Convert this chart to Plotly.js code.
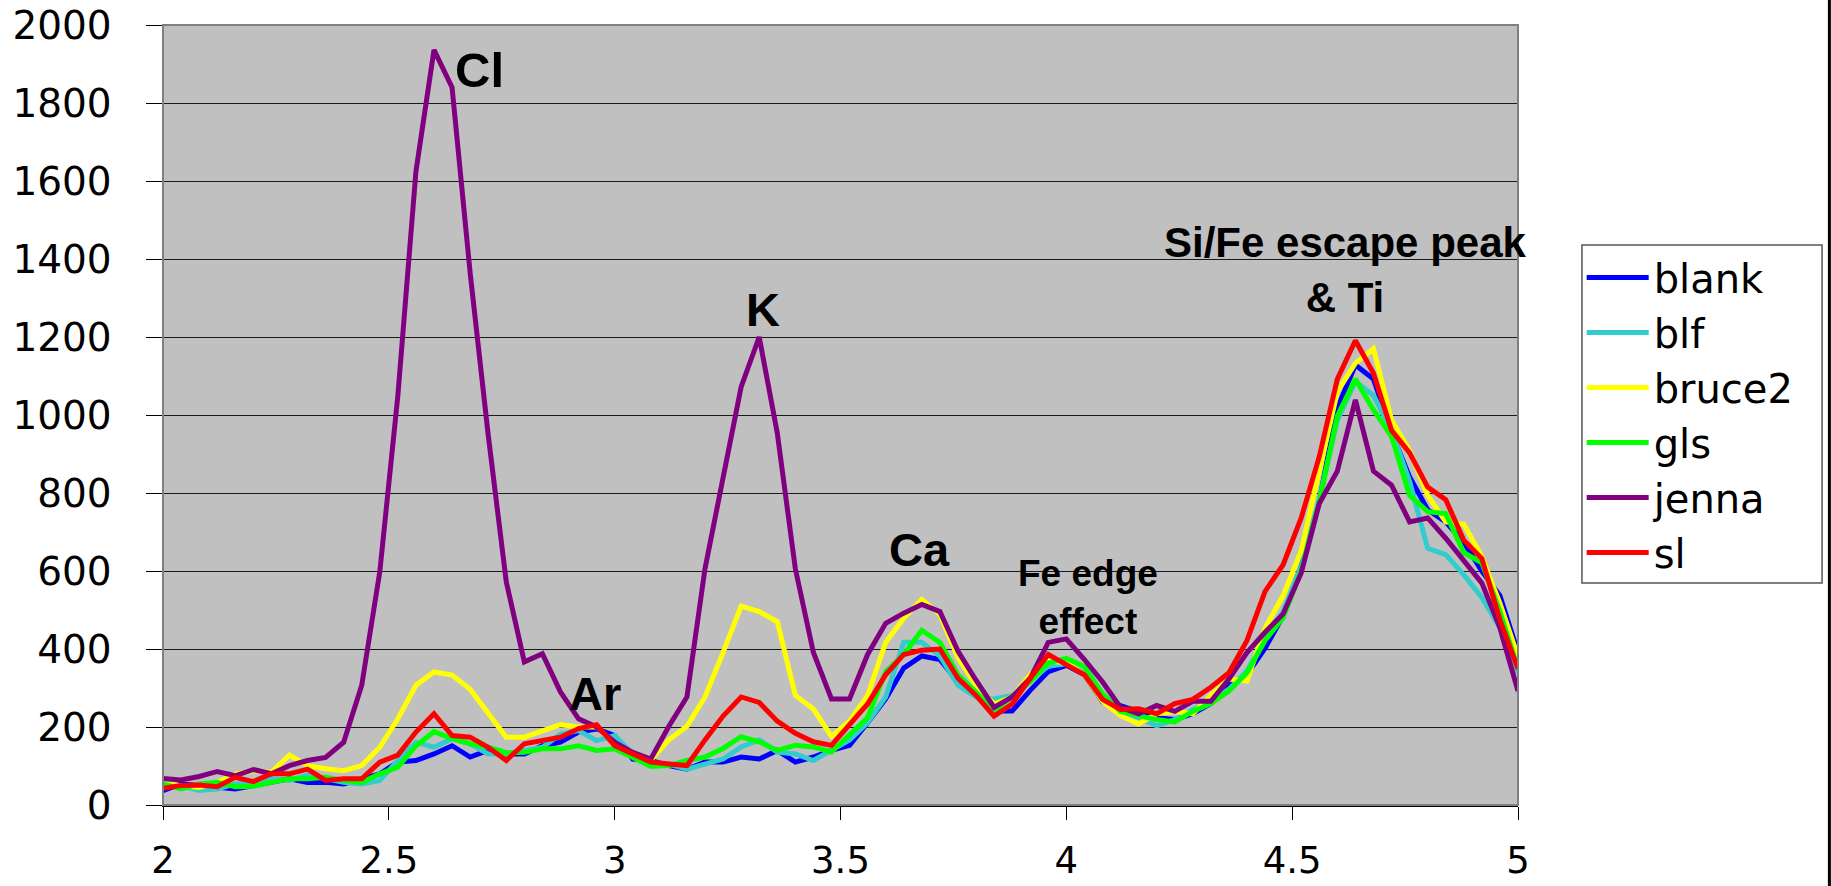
<!DOCTYPE html>
<html>
<head>
<meta charset="utf-8">
<script src="https://cdn.plot.ly/plotly-3.0.1.min.js"></script>
<style>
  html, body { margin: 0; padding: 0; background: #ffffff; }
  #chart { width: 1831px; height: 886px; }
</style>
</head>
<body>
<div id="chart"></div>
<script>
// Energy axis (keV)
const energy = [2.00,2.04,2.08,2.12,2.16,2.20,2.24,2.28,2.32,2.36,2.40,2.44,2.48,2.52,2.56,2.60,2.64,2.68,2.72,2.76,
  2.80,2.84,2.88,2.92,2.96,3.00,3.04,3.08,3.12,3.16,3.20,3.24,3.28,3.32,3.36,3.40,3.44,3.48,3.52,3.56,
  3.60,3.64,3.68,3.72,3.76,3.80,3.84,3.88,3.92,3.96,4.00,4.04,4.08,4.12,4.16,4.20,4.24,4.28,4.32,4.36,
  4.40,4.44,4.48,4.52,4.56,4.60,4.64,4.68,4.72,4.76,4.80,4.84,4.88,4.92,4.96,5.00];

const seriesNames = ["blank", "blf", "bruce2", "gls", "jenna", "sl"];

const blank = [37,54,50,45,41,50,58,67,58,58,54,67,80,110,114,131,152,123,140,131,
  131,152,161,187,195,178,118,114,101,92,110,110,123,118,140,110,123,140,153,211,
  272,351,382,373,316,285,241,241,294,342,358,334,265,255,240,224,219,234,260,307,
  334,402,485,611,778,1018,1128,1092,956,841,757,726,673,600,537,391];

const blf = [50,50,37,41,54,58,67,63,77,67,58,54,63,114,161,148,170,157,131,131,
  140,148,182,191,165,178,131,108,105,92,105,118,149,167,136,131,114,140,167,211,
  277,417,417,382,307,277,272,281,320,356,362,338,274,234,224,203,219,245,266,297,
  344,428,496,611,783,987,1086,1050,961,830,658,642,590,532,454,339];

const bruce2 = [54,50,45,58,79,88,84,128,101,93,88,101,148,221,307,341,333,297,237,174,
  174,191,206,200,200,157,131,115,167,202,277,391,510,496,470,281,246,176,215,281,
  417,479,527,488,378,307,259,277,334,369,365,334,266,229,208,234,240,234,281,323,
  318,454,537,652,851,1060,1133,1170,987,909,794,726,720,637,517,381];

const gls = [54,41,54,58,47,48,58,67,67,71,63,58,80,97,152,188,170,157,148,134,
  135,144,144,152,140,144,122,99,101,114,123,145,175,162,140,153,149,136,180,224,
  342,386,448,417,334,290,241,277,316,364,376,355,285,240,229,219,213,240,260,292,
  339,422,480,600,778,997,1092,1013,945,794,752,747,647,621,496,349];

const jenna = [68,64,73,86,75,91,80,101,114,122,161,307,598,1050,1624,1936,1840,1365,949,572,
  367,388,290,221,200,161,135,118,202,277,606,844,1072,1200,954,606,391,272,272,386,
  466,492,514,496,395,320,250,277,325,417,426,373,316,250,234,255,240,266,266,323,
  391,443,490,595,773,856,1039,856,820,726,736,684,626,569,454,292];

const sl = [43,50,51,47,71,60,80,80,92,63,67,67,110,128,187,234,178,174,148,114,
  157,165,174,196,206,152,131,110,105,101,167,228,277,263,215,184,162,153,206,259,
  334,386,397,400,325,281,228,259,325,386,360,334,271,245,247,234,260,271,302,339,
  422,548,616,736,893,1092,1191,1107,961,903,815,783,679,632,475,349];

const seriesValues = [blank, blf, bruce2, gls, jenna, sl];
const seriesColors = ["#0000FF", "#33CCCC", "#FFFF00", "#00FF00", "#800080", "#FF0000"];

const xTicks = [2, 2.5, 3, 3.5, 4, 4.5, 5];
const xTickLabels = ["2", "2.5", "3", "3.5", "4", "4.5", "5"];
const yTicks = [0, 200, 400, 600, 800, 1000, 1200, 1400, 1600, 1800, 2000];
const yTickLabels = ["0", "200", "400", "600", "800", "1000", "1200", "1400", "1600", "1800", "2000"];

const peakLabels = ["Cl", "Ar", "K", "Ca", "Fe edge<br>effect", "Si/Fe escape peak<br>& Ti"];
const peakX = [2.701, 2.956, 3.329, 3.674, 4.047, 4.618];
const peakY = [1885, 285, 1270, 656, 531, 1372];
const peakSize = [49, 47, 47, 47, 37, 42];

const traces = seriesNames.map((name, k) => ({
  type: "scatter",
  mode: "lines",
  name: name,
  x: energy,
  y: seriesValues[k],
  line: { color: seriesColors[k], width: 5 },
  hoverinfo: "x+y+name"
}));

const annotations = peakLabels.map((t, k) => ({
  x: peakX[k], y: peakY[k], xref: "x", yref: "y",
  text: t, showarrow: false,
  xanchor: "center", yanchor: "middle",
  font: { family: "Liberation Sans, Arial, sans-serif", size: peakSize[k], color: "#000000", weight: "bold" }
}));

const layout = {
  width: 1831, height: 886,
  margin: { l: 163, r: 313, t: 25, b: 81, pad: 0 },
  paper_bgcolor: "#FFFFFF",
  plot_bgcolor: "#C0C0C0",
  showlegend: true,
  legend: {
    x: 1.047, y: 0.718, xanchor: "left", yanchor: "top",
    bgcolor: "rgba(255,255,255,0)", borderwidth: 0,
    font: { family: "DejaVu Sans, sans-serif", size: 40, color: "#000000" },
    itemwidth: 62,
    tracegroupgap: 0
  },
  xaxis: {
    range: [2, 5],
    tickmode: "array", tickvals: xTicks, ticktext: xTickLabels,
    ticks: "outside", ticklen: 13, tickwidth: 1, tickcolor: "#000000",
    showgrid: false, zeroline: false,
    showline: true, linecolor: "#000000", linewidth: 1.5,
    tickfont: { family: "DejaVu Sans, sans-serif", size: 37, color: "#000000" },
    ticklabelstandoff: 9,
    fixedrange: true
  },
  yaxis: {
    range: [0, 2000],
    tickmode: "array", tickvals: yTicks, ticktext: yTickLabels,
    ticks: "outside", ticklen: 16, tickwidth: 1, tickcolor: "#000000",
    showgrid: true, gridcolor: "#1a1a1a", gridwidth: 1,
    zeroline: false,
    showline: true, linecolor: "#000000", linewidth: 1.5,
    tickfont: { family: "DejaVu Sans, sans-serif", size: 39, color: "#000000" },
    ticklabelstandoff: 26,
    fixedrange: true
  },
  annotations: annotations,
  shapes: [
    { type: "rect", xref: "paper", yref: "paper", x0: 0, x1: 1, y0: 0, y1: 1,
      line: { color: "#808080", width: 2 }, fillcolor: "rgba(0,0,0,0)", layer: "above" },
    { type: "rect", xref: "paper", yref: "paper", x0: 1.0472, x1: 1.2244, y0: 0.2846, y1: 0.7179,
      line: { color: "#555555", width: 1.5 }, fillcolor: "#FFFFFF", layer: "above" },
    { type: "line", xref: "paper", yref: "paper", x0: 1.2298, x1: 1.2298, y0: -0.11, y1: 1.04,
      line: { color: "#000000", width: 3 } }
  ]
};

Plotly.newPlot("chart", traces, layout, { displayModeBar: false, staticPlot: true });
</script>
</body>
</html>
